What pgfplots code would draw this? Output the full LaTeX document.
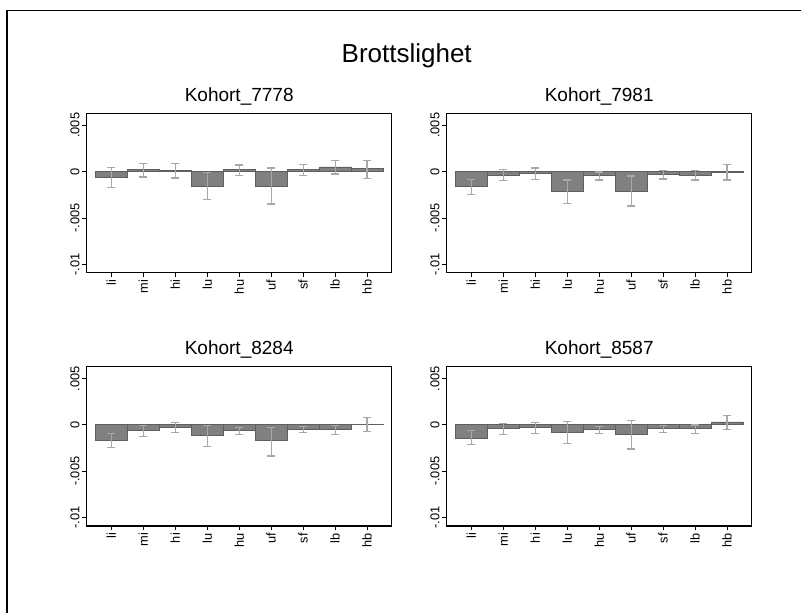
\documentclass[border=0pt]{standalone}
\usepackage{fontspec}
\setmainfont{Liberation Sans}
\usepackage{pgfplots}
\usepackage{pgfplotstable}
\pgfplotsset{compat=1.18}

\definecolor{barfill}{RGB}{128,128,128}
\definecolor{baredge}{RGB}{95,95,95}
\definecolor{errgray}{RGB}{168,168,168}

% estimate, upper and lower limit per category
\pgfplotstableread{
x y hi lo
1 -0.00065 0.00047 -0.0017
2 0.00018 0.0009 -0.00058
3 0.0001 0.00087 -0.00069
4 -0.00162 -0.00007 -0.00303
5 0.00018 0.00072 -0.00043
6 -0.00162 0.0004 -0.0035
7 0.00025 0.00076 -0.0004
8 0.0005 0.00123 -0.00025
9 0.00029 0.00123 -0.00076
}\kohA
\pgfplotstableread{
x y hi lo
1 -0.00162 -0.00083 -0.00245
2 -0.00036 0.00025 -0.00097
3 -0.00018 0.0004 -0.00083
4 -0.00217 -0.0009 -0.0034
5 -0.00043 -0.00004 -0.0009
6 -0.00217 -0.00047 -0.0037
7 -0.00029 0.0001 -0.0008
8 -0.00043 0.0001 -0.0009
9 -0.00004 0.00076 -0.0009
}\kohB
\pgfplotstableread{
x y hi lo
1 -0.00168 -0.00096 -0.00243
2 -0.00057 -0.00004 -0.00121
3 -0.00025 0.00029 -0.00082
4 -0.00118 -0.0001 -0.00232
5 -0.00064 -0.00025 -0.00104
6 -0.00171 -0.00025 -0.00336
7 -0.0005 -0.00018 -0.00086
8 -0.0005 -0.0001 -0.001
9 0.00007 0.00079 -0.00071
}\kohC
\pgfplotstableread{
x y hi lo
1 -0.00143 -0.00064 -0.00214
2 -0.00039 0.00014 -0.001
3 -0.00029 0.00025 -0.00089
4 -0.00079 0.00039 -0.002
5 -0.0005 -0.00014 -0.00093
6 -0.001 0.0005 -0.0026
7 -0.00043 -0.00007 -0.00082
8 -0.00043 0 -0.00096
9 0.00032 0.00104 -0.00046
}\kohD

\pgfplotsset{
  kohort/.style={
    anchor=south west,
    scale only axis,
    width=305pt, height=159.5pt,
    xmin=0.23, xmax=9.77,
    ymin=-0.0109, ymax=0.0063,
    line width=1.3pt,
    axis line style={line width=1.3pt},
    xtick={1,...,9},
    xticklabels={li,mi,hi,lu,hu,uf,sf,lb,hb},
    ytick={-0.01,-0.005,0,0.005},
    yticklabels={-.01,-.005,0,.005},
    scaled y ticks=false,
    tick align=outside,
    major tick length=4.5pt,
    tick style={line width=0.9pt, black},
    xtick pos=bottom, ytick pos=left,
    tick label style={font=\fontsize{12.8}{14}\selectfont},
    xticklabel style={rotate=90, anchor=east, inner sep=2pt},
    yticklabel style={rotate=90, anchor=south, inner sep=2pt},
    title style={anchor=base, at={(0.5,1)}, yshift=5.7pt,
      font=\fontsize{19}{22}\selectfont},
  },
  bars/.style={ybar, bar width=1, fill=barfill, draw=baredge, line width=0.9pt},
  errs/.style={draw=none, mark=none,
    error bars/.cd, y dir=both, y explicit,
    error bar style={draw=errgray, line width=1.2pt},
    error mark options={rotate=90, draw=errgray, line width=1.2pt, mark size=4pt}},
}

\begin{document}
\begin{tikzpicture}
\path[use as bounding box] (0,0) rectangle (801pt,613pt);
\draw[line width=1.2pt] (7pt,0pt) -- (7pt,602.7pt) -- (801pt,602.7pt);
\node[anchor=base, font=\fontsize{26}{30}\selectfont] at (406.7pt,550.3pt) {Brottslighet};

\begin{axis}[kohort, at={(86.7pt,340.3pt)}, title={Kohort\_7778}]
\addplot[bars] table[x=x, y=y] \kohA;
\addplot[errs] table[x=x, y=y, y error plus expr=\thisrow{hi}-\thisrow{y}, y error minus expr=\thisrow{y}-\thisrow{lo}] \kohA;
\end{axis}

\begin{axis}[kohort, at={(446.7pt,340.3pt)}, title={Kohort\_7981}]
\addplot[bars] table[x=x, y=y] \kohB;
\addplot[errs] table[x=x, y=y, y error plus expr=\thisrow{hi}-\thisrow{y}, y error minus expr=\thisrow{y}-\thisrow{lo}] \kohB;
\end{axis}

\begin{axis}[kohort, at={(86.7pt,87pt)}, title={Kohort\_8284}]
\addplot[bars] table[x=x, y=y] \kohC;
\addplot[errs] table[x=x, y=y, y error plus expr=\thisrow{hi}-\thisrow{y}, y error minus expr=\thisrow{y}-\thisrow{lo}] \kohC;
\end{axis}

\begin{axis}[kohort, at={(446.7pt,87pt)}, title={Kohort\_8587}]
\addplot[bars] table[x=x, y=y] \kohD;
\addplot[errs] table[x=x, y=y, y error plus expr=\thisrow{hi}-\thisrow{y}, y error minus expr=\thisrow{y}-\thisrow{lo}] \kohD;
\end{axis}
\end{tikzpicture}
\end{document}
